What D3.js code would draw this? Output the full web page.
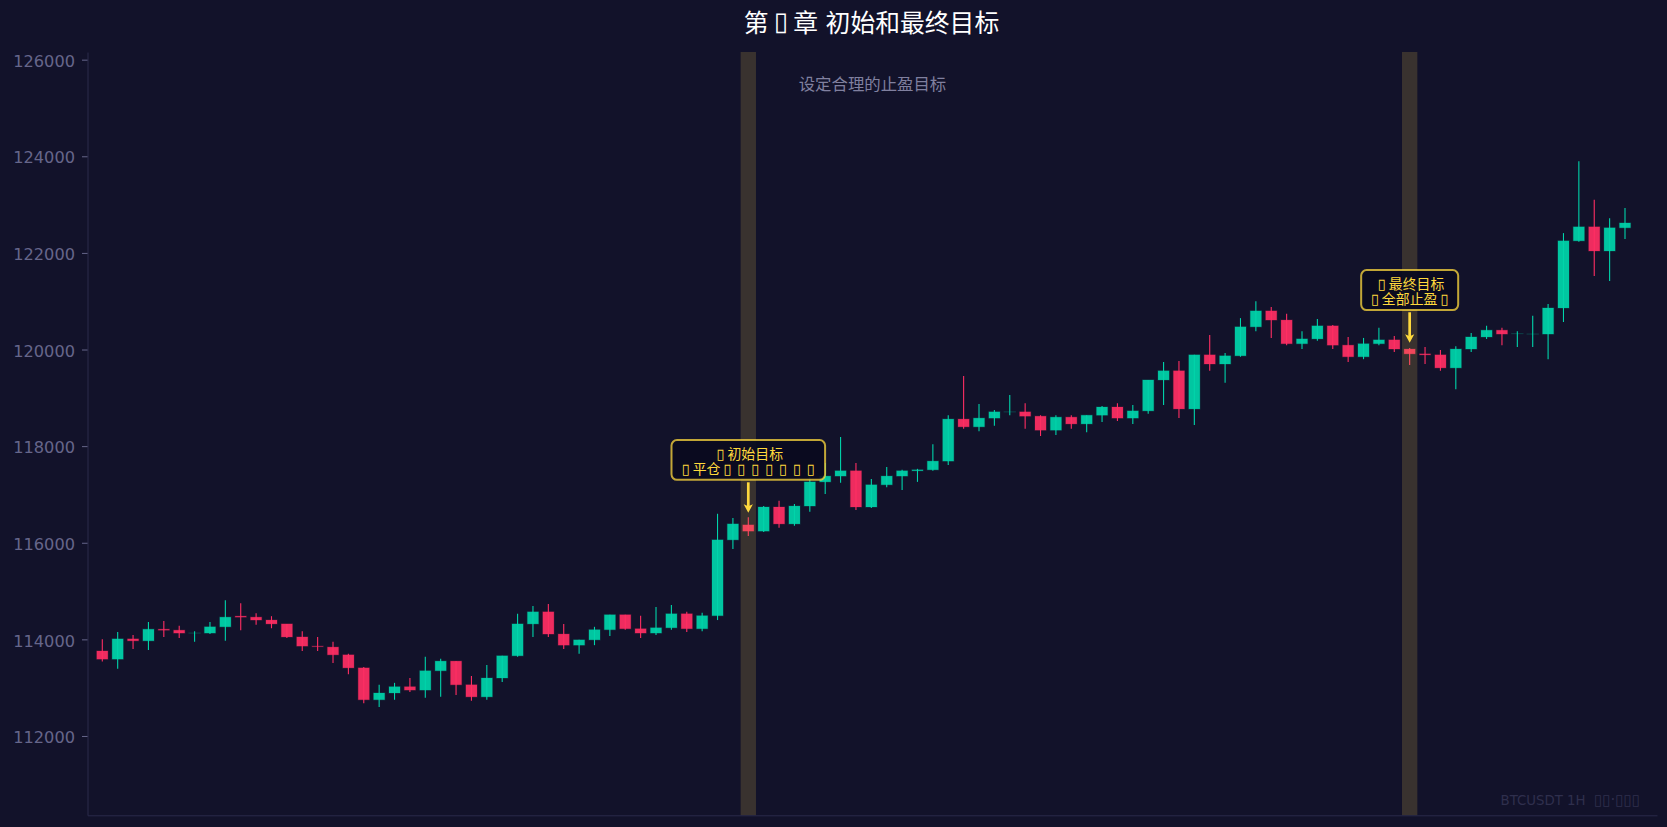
<!DOCTYPE html>
<html><head><meta charset="utf-8">
<script src="https://cdn.jsdelivr.net/npm/d3@7/dist/d3.min.js"></script>
<style>html,body{margin:0;padding:0;background:#12122a;overflow:hidden}svg{display:block}</style>
</head><body><svg id="c" width="1667" height="827"></svg>
<script>
const opens=[113760,113590,114010,113970,114210,114190,114130,114130,114260,114480,114460,114400,114320,114050,113860,113840,113680,113410,112750,112890,113020,112950,113350,113550,113060,112810,113200,113660,114320,114570,114110,113880,113990,114200,114510,114220,114130,114240,114530,114220,114490,116060,116370,116240,116740,116390,116760,117260,117380,117490,116740,117200,117380,117490,117510,117690,118560,118400,118580,118710,118710,118620,118330,118600,118460,118640,118810,118580,118730,119370,119560,118770,119890,119700,119870,120470,120800,120610,120120,120220,120490,120090,119850,120120,120200,120010,119910,119890,119620,120010,120260,120400,120330,120320,120320,120860,122250,122540,122040,122520];
const closes=[113590,114010,113970,114210,114190,114130,114130,114260,114460,114460,114400,114320,114050,113860,113850,113680,113410,112750,112890,113020,112950,113350,113550,113060,112810,113200,113660,114320,114570,114110,113880,113990,114200,114510,114220,114130,114240,114530,114220,114490,116060,116390,116240,116740,116390,116760,117260,117380,117490,116740,117200,117380,117490,117510,117690,118560,118400,118580,118710,118710,118620,118330,118600,118460,118640,118810,118580,118730,119370,119560,118770,119890,119700,119870,120470,120800,120610,120120,120220,120490,120090,119850,120120,120200,120010,119910,119890,119620,120010,120260,120400,120320,120330,120320,120860,122250,122540,122040,122520,122620];
const highs=[114000,114150,114090,114360,114380,114280,114170,114360,114810,114750,114540,114480,114320,114170,114050,113950,113700,113430,113060,113100,113200,113640,113600,113550,113240,113470,113660,114530,114690,114730,114320,113990,114260,114510,114510,114490,114670,114710,114570,114550,116600,116510,116530,116760,116870,116800,117400,117650,118190,117650,117320,117570,117510,117530,118040,118640,119450,118870,118750,119060,118890,118640,118640,118640,118640,118830,118890,118850,119370,119740,119760,119890,120300,119930,120650,121000,120880,120740,120380,120630,120510,120260,120240,120450,120280,120030,120050,119990,120070,120340,120490,120450,120380,120700,120940,122410,123900,123100,122720,122930];
const lows=[113540,113390,113800,113780,114050,114030,113950,114110,113970,114190,114300,114230,114030,113760,113760,113510,113280,112680,112600,112750,112910,112790,112810,112850,112730,112750,113120,113640,114050,114050,113800,113700,113880,114070,114200,114030,114090,114200,114150,114170,114400,115870,116140,116220,116310,116350,116640,117010,117240,116680,116720,117150,117090,117260,117490,117610,118360,118310,118420,118640,118360,118210,118230,118360,118290,118500,118520,118460,118670,118850,118580,118440,119560,119310,119850,120380,120240,120090,120010,120180,120010,119740,119800,120090,119950,119680,119700,119560,119180,119950,120220,120090,120050,120050,119800,120570,122230,121520,121420,122290];
const yTicks=[112000,114000,116000,118000,120000,122000,124000,126000];
const title="第▯章 初始和最终目标";
const subtitle="设定合理的止盈目标";
const watermarkA="BTCUSDT 1H";
const watermarkB="▯▯·▯▯▯";
const targetIdx=[42,85];
const targetPrice=[116620,120140];
const targetLines=[["▯初始目标","▯平仓▯▯▯▯▯▯▯"],["▯最终目标","▯全部止盈▯"]];
const boxW=[153.6,97];

const GREEN="#00d4aa",RED="#ff2e63",GOLD="#ffd93d",BG="#12122a";
const CJK="'Noto Sans CJK SC','DejaVu Sans',sans-serif",LAT="'DejaVu Sans',sans-serif";
const L=87.5,R=1657,T=52,B=815.3;
const svg=d3.select("#c");
svg.append("rect").attr("width",1667).attr("height",827).attr("fill",BG);
const x=d3.scaleLinear().domain([0,99]).range([102.3,1625]);
const y=d3.scaleLinear().domain([110358,126159]).range([B,T]);
const step=x(1)-x(0),bw=step*0.72;
const idx=d3.range(opens.length);
const col=i=>closes[i]>=opens[i]?GREEN:RED;

const gc=svg.append("g");
gc.selectAll("line").data(idx).join("line")
 .attr("x1",i=>x(i)).attr("x2",i=>x(i)).attr("y1",i=>y(highs[i])).attr("y2",i=>y(lows[i]))
 .attr("stroke",col).attr("stroke-width",1.1);
gc.selectAll("rect").data(idx).join("rect")
 .attr("x",i=>x(i)-bw/2).attr("width",bw)
 .attr("y",i=>y(Math.max(opens[i],closes[i])))
 .attr("height",i=>Math.max(0.01,Math.abs(y(opens[i])-y(closes[i]))))
 .attr("fill",col).attr("fill-opacity",.93)
 .attr("stroke",col).attr("stroke-opacity",.2).attr("stroke-width",1.2);

svg.append("g").selectAll("rect").data(targetIdx).join("rect")
 .attr("x",i=>x(i-.5)).attr("width",step).attr("y",T).attr("height",B-T)
 .attr("fill","#ffd24a").attr("fill-opacity",.165);

const axY=svg.append("g").attr("transform",`translate(${L},0)`)
 .call(d3.axisLeft(y).tickValues(yTicks).tickFormat(d=>d).tickSize(5.5).tickSizeOuter(0).tickPadding(7));
axY.selectAll("text").attr("fill","#66668a").attr("font-family",LAT).attr("font-size",16.2).attr("y",1.5);
axY.selectAll(".tick line").attr("stroke","#66668a");
axY.select(".domain").attr("stroke","#2a2a4a");
const axX=svg.append("g").attr("transform",`translate(0,${B})`)
 .call(d3.axisBottom(d3.scaleLinear().domain([0,1]).range([L,R])).tickValues([]).tickSizeOuter(0));
axX.select(".domain").attr("stroke","#2a2a4a");

function block(sel,lines,cx,ys,em,fill){
 const t=sel.append("text").attr("dominant-baseline","central").attr("fill",fill)
  .attr("text-anchor","middle").attr("font-family",CJK).attr("font-size",em);
 lines.forEach((str,n)=>{
  const chars=Array.from(str);
  const adv=chars.map(c=>c===" "?em*.3:em);
  let pos=cx-d3.sum(adv)/2;
  chars.forEach((c,k)=>{
   t.append("tspan").attr("x",pos+adv[k]/2).attr("y",ys[n])
    .attr("font-family",c==="▯"?LAT:CJK).attr("font-size",c==="▯"?em*1.05:em).text(c);
   pos+=adv[k];
  });
 });
}
block(svg,[title],871.5,[20.8],24.8,"#ffffff");
svg.append("text").attr("x",872.5).attr("y",83).attr("dominant-baseline","central").attr("text-anchor","middle")
 .attr("font-family",CJK).attr("font-size",16.4).attr("fill","#80809f").text(subtitle);

const wm=svg.append("text").attr("y",805).attr("x",1640).attr("text-anchor","end")
 .attr("font-family",LAT).attr("font-size",13.3).attr("fill","#2f2f4d");
wm.append("tspan").text(watermarkA+"\u00a0\u00a0");
wm.append("tspan").attr("font-size",15).text(watermarkB);

targetIdx.forEach((i,k)=>{
 const cx=x(i),tip=y(targetPrice[k]),g=svg.append("g");
 const top=tip-72.7,h=k?40:39.7;
 g.append("line").attr("x1",cx).attr("x2",cx).attr("y1",tip-30.5).attr("y2",tip-6)
  .attr("stroke",GOLD).attr("stroke-width",2.7);
 g.append("path").attr("d",`M${cx},${tip}L${cx-4.6},${tip-8.5}L${cx},${tip-6.5}L${cx+4.6},${tip-8.5}Z`).attr("fill",GOLD);
 g.append("rect").attr("x",cx-boxW[k]/2).attr("y",top).attr("width",boxW[k]).attr("height",h).attr("rx",5.5)
  .attr("fill","#0a0a1e").attr("fill-opacity",.92).attr("stroke",GOLD).attr("stroke-opacity",.75).attr("stroke-width",2);
 block(g,targetLines[k],cx,[top+12.8,top+28],13.9,GOLD);
});
</script></body></html>
